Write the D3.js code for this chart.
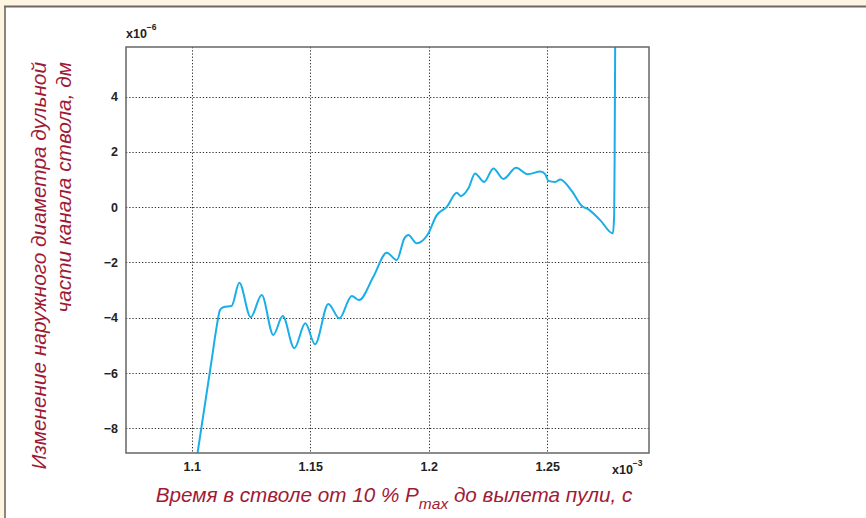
<!DOCTYPE html>
<html>
<head>
<meta charset="utf-8">
<script src="https://cdn.jsdelivr.net/npm/d3@7"></script>
<style>
  html, body { margin: 0; padding: 0; background: #fdf4e1; }
  svg { display: block; }
</style>
</head>
<body>
<svg id="chart" width="866" height="518"></svg>
<script>
// Time in barrel, x10^-3 s
const timeMs = [
  1.1014, 1.10844, 1.11055, 1.11194, 1.11334, 1.11688, 1.12009, 1.12490, 1.12954, 1.13444,
  1.13840, 1.14330, 1.14794, 1.15203, 1.15765, 1.16229, 1.16752, 1.17060, 1.17664, 1.18229,
  1.18651, 1.18972, 1.19140, 1.19495, 1.19942, 1.20339, 1.20761, 1.21183, 1.21352, 1.21673,
  1.21955, 1.22335, 1.22728, 1.23150, 1.23686, 1.24171, 1.24711, 1.24910, 1.25049, 1.25332,
  1.25543, 1.26036, 1.26458, 1.26737, 1.27230, 1.27766, 1.27821, 1.27842, 1.27864
];
// Change of outer muzzle diameter, x10^-6 dm
const diamChange = [
  -9.50, -5.52, -4.32, -3.72, -3.62, -3.57, -2.73, -3.98, -3.18, -4.62,
  -3.94, -5.10, -4.20, -4.96, -3.50, -4.02, -3.21, -3.36, -2.52, -1.65,
  -1.91, -1.13, -1.01, -1.31, -1.01, -0.29, 0.01, 0.52, 0.40, 0.68,
  1.22, 0.91, 1.40, 1.02, 1.42, 1.19, 1.29, 1.19, 0.95, 0.91,
  1.00, 0.58, 0.04, -0.08, -0.47, -0.95, -0.29, 2.06, 6.03
];
const xTicks = [1.1, 1.15, 1.2, 1.25];
const xTickLabels = ["1.1", "1.15", "1.2", "1.25"];
const yTicks = [-8, -6, -4, -2, 0, 2, 4];
const yTickLabels = ["\u22128", "\u22126", "\u22124", "\u22122", "0", "2", "4"];

const svg = d3.select("#chart");
const W = 866, H = 518;

// white panel with grey frame
svg.append("rect").attr("x", 5).attr("y", 6).attr("width", W - 5).attr("height", H - 6)
  .attr("fill", "#ffffff");
svg.append("line").attr("x1", 4).attr("x2", W).attr("y1", 6.5).attr("y2", 6.5)
  .attr("stroke", "#6e6862").attr("stroke-width", 2.2);
svg.append("line").attr("x1", 5).attr("x2", 5).attr("y1", 6).attr("y2", H)
  .attr("stroke", "#6e6862").attr("stroke-width", 1.6);

const plot = { left: 126, top: 47, right: 649, bottom: 453 };
const x = d3.scaleLinear().domain([1.0723, 1.2929]).range([plot.left, plot.right]);
const y = d3.scaleLinear().domain([-8.89, 5.79]).range([plot.bottom, plot.top]);

const g = svg.append("g");

// dotted grid
g.append("g").selectAll("line").data(xTicks).join("line")
  .attr("x1", d => Math.round(x(d)) + 0.5).attr("x2", d => Math.round(x(d)) + 0.5)
  .attr("y1", plot.top).attr("y2", plot.bottom)
  .attr("stroke", "#333").attr("stroke-width", 1).attr("stroke-dasharray", "1.3,1.9");
g.append("g").selectAll("line").data(yTicks).join("line")
  .attr("x1", plot.left).attr("x2", plot.right)
  .attr("y1", d => Math.round(y(d)) + 0.5).attr("y2", d => Math.round(y(d)) + 0.5)
  .attr("stroke", "#333").attr("stroke-width", 1).attr("stroke-dasharray", "1.3,1.9");

// axes with tick labels
const xAxis = d3.axisBottom(x).tickValues(xTicks).tickSize(0).tickPadding(9)
  .tickFormat((d, i) => xTickLabels[i]);
const yAxis = d3.axisLeft(y).tickValues(yTicks).tickSize(0).tickPadding(8)
  .tickFormat((d, i) => yTickLabels[i]);

const gx = g.append("g").attr("transform", `translate(0,${plot.bottom})`).call(xAxis);
const gy = g.append("g").attr("transform", `translate(${plot.left},0)`).call(yAxis);
[gx, gy].forEach(a => {
  a.select(".domain").remove();
  a.selectAll("text").attr("font-family", "'Liberation Sans', Arial, sans-serif")
    .attr("font-size", 12.5).attr("font-weight", "bold").attr("fill", "#222");
});

// data line
const clipId = "plotclip";
svg.append("clipPath").attr("id", clipId).append("rect")
  .attr("x", plot.left).attr("y", plot.top)
  .attr("width", plot.right - plot.left).attr("height", plot.bottom - plot.top);

const pts = timeMs.map((t, i) => [t, diamChange[i]]);
const line = d3.line().x(d => x(d[0])).y(d => y(d[1])).curve(d3.curveMonotoneX);
g.append("path").datum(pts).attr("d", line)
  .attr("clip-path", `url(#${clipId})`)
  .attr("fill", "none").attr("stroke", "#1aaee8").attr("stroke-width", 2)
  .attr("stroke-linejoin", "round");

// frame box
g.append("rect").attr("x", plot.left).attr("y", plot.top)
  .attr("width", plot.right - plot.left).attr("height", plot.bottom - plot.top)
  .attr("fill", "none").attr("stroke", "#666").attr("stroke-width", 1.5);

// exponent labels
const expFont = "'Liberation Sans', Arial, sans-serif";
const e6 = svg.append("text").attr("x", 126).attr("y", 38)
  .attr("font-family", expFont).attr("font-size", 12.5).attr("font-weight", "bold").attr("fill", "#222");
e6.append("tspan").text("x10");
e6.append("tspan").attr("dy", -8).attr("font-size", 8.5).text("\u22126");

const e3 = svg.append("text").attr("x", 612).attr("y", 474)
  .attr("font-family", expFont).attr("font-size", 12.5).attr("font-weight", "bold").attr("fill", "#222");
e3.append("tspan").text("x10");
e3.append("tspan").attr("dy", -8).attr("font-size", 8.5).text("\u22123");

// axis titles
const titleColor = "#a01a35";
const titleFont = "'Liberation Sans', Arial, sans-serif";
const xt = svg.append("text").attr("x", 394).attr("y", 502).attr("text-anchor", "middle")
  .attr("font-family", titleFont).attr("font-size", 20.7).attr("font-style", "italic")
  .attr("fill", titleColor);
xt.append("tspan").text("Время в стволе от 10 % P");
xt.append("tspan").attr("dy", 7).attr("font-size", 15.5).text("max");
xt.append("tspan").attr("dy", -7).text(" до вылета пули, с");

const yt = svg.append("g").attr("transform", "translate(0,62) rotate(-90)");
yt.append("text").attr("x", 0).attr("y", 46).attr("text-anchor", "end")
  .attr("font-family", titleFont).attr("font-size", 20.8).attr("font-style", "italic")
  .attr("fill", titleColor).text("Изменение наружного диаметра дульной");
yt.append("text").attr("x", 0).attr("y", 71).attr("text-anchor", "end")
  .attr("font-family", titleFont).attr("font-size", 20.8).attr("font-style", "italic")
  .attr("fill", titleColor).text("части канала ствола, дм");
</script>
</body>
</html>
